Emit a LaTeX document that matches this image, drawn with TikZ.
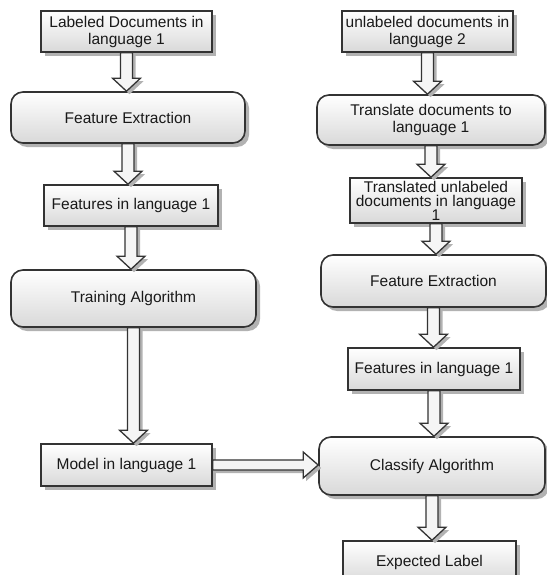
\documentclass[tikz,border=0pt]{standalone}
\usepackage{fontspec}
\setmainfont{Liberation Sans}
\usetikzlibrary{shadows,calc}
\definecolor{edge}{HTML}{333333}
\tikzstyle{doc_box}=[rectangle,
                     draw=edge,
                     line width=1.6pt,
                     top color=white,
                     bottom color=gray!30,
                     align=center,
                     text=black!90,
                     font=\fontsize{15.5pt}{17pt}\selectfont,
                     drop shadow={shadow xshift=4pt, shadow yshift=-4pt, fill=gray!60, opacity=1}]
\tikzstyle{step_box}=[doc_box, rounded corners=12pt]
\tikzstyle{block_arrow}=[draw=edge, line width=1.3pt, fill=gray!8,
                         drop shadow={shadow xshift=3pt, shadow yshift=-3pt, fill=gray!60, opacity=1}]
\newcommand{\blockdown}[2]{%
  \draw[block_arrow] let \p1=(#1.south), \p2=(#2.north) in
    (\x1-6pt,\y1) -- (\x1-6pt,\y2+13pt) -- (\x1-14pt,\y2+13pt) -- (\x1,\y2)
    -- (\x1+14pt,\y2+13pt) -- (\x1+6pt,\y2+13pt) -- (\x1+6pt,\y1) -- cycle;}
\newcommand{\blockright}[2]{%
  \draw[block_arrow] let \p1=(#1.east), \p2=(#2.west) in
    (\x1,\y1+5pt) -- (\x2-15pt,\y1+5pt) -- (\x2-15pt,\y1+13pt) -- (\x2,\y1)
    -- (\x2-15pt,\y1-13pt) -- (\x2-15pt,\y1-5pt) -- (\x1,\y1-5pt) -- cycle;}

\begin{document}
\begin{tikzpicture}[x=1pt, y=-1pt]
    \useasboundingbox (0,0) rectangle (546,575);

    % training side
    \node at (126.5, 31.5) (LabDocs) [doc_box, minimum width=171pt, minimum height=41pt] {Labeled Documents in\\language 1};
    \node at (128, 117.5) (FeatExtL) [step_box, minimum width=234pt, minimum height=51pt] {Feature Extraction};
    \node at (131, 205.5) (FeatL) [doc_box, minimum width=174pt, minimum height=41pt] {Features in language 1};
    \node at (133.5, 298.5) (Train) [step_box, minimum width=245pt, minimum height=57pt] {Training Algorithm};
    \node at (126.5, 465) (Model) [doc_box, minimum width=171pt, minimum height=42pt] {Model in language 1};

    % test side
    \node at (427.5, 31.5) (UnlabDocs) [doc_box, minimum width=171pt, minimum height=41pt] {unlabeled documents in\\language 2};
    \node at (431, 120) (Transl) [step_box, minimum width=228pt, minimum height=50pt] {Translate documents to\\language 1};
    \node at (436, 200.5) (TranslDocs) [doc_box, minimum width=172pt, minimum height=45pt, inner sep=0pt,
        font=\fontsize{15.5pt}{14pt}\selectfont] {Translated unlabeled\\documents in language\\1};
    \node at (433.5, 281) (FeatExtR) [step_box, minimum width=225pt, minimum height=52pt] {Feature Extraction};
    \node at (434, 369) (FeatR) [doc_box, minimum width=172pt, minimum height=42pt] {Features in language 1};
    \node at (432, 466) (Classify) [step_box, minimum width=226pt, minimum height=58pt] {Classify Algorithm};
    \node at (429.5, 562) (Label) [doc_box, minimum width=173pt, minimum height=42pt] {Expected Label};

    \blockdown{LabDocs}{FeatExtL}
    \blockdown{FeatExtL}{FeatL}
    \blockdown{FeatL}{Train}
    \blockdown{Train}{Model}
    \blockright{Model}{Classify}

    \blockdown{UnlabDocs}{Transl}
    \blockdown{Transl}{TranslDocs}
    \blockdown{TranslDocs}{FeatExtR}
    \blockdown{FeatExtR}{FeatR}
    \blockdown{FeatR}{Classify}
    \blockdown{Classify}{Label}
\end{tikzpicture}
\end{document}
